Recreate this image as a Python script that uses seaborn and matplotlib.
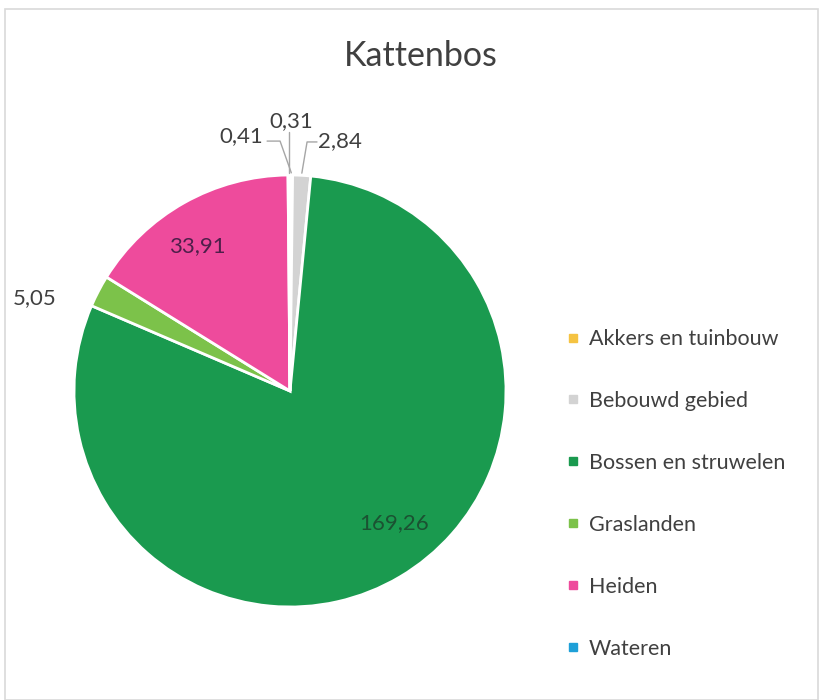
import numpy as np
import matplotlib
matplotlib.use("Agg")
import matplotlib.pyplot as plt
from matplotlib.lines import Line2D
from matplotlib.patches import Rectangle
import seaborn as sns

# data (hectares per land use type)
categories = ["Akkers en tuinbouw", "Bebouwd gebied", "Bossen en struwelen",
              "Graslanden", "Heiden", "Wateren"]
values = [0.41, 2.84, 169.26, 5.05, 33.91, 0.31]
value_labels = ["0,41", "2,84", "169,26", "5,05", "33,91", "0,31"]
colors = ["#f5c342", "#d3d3d3", "#1a9a4f", "#7cc24a", "#ee4b9c", "#1ea0d8"]

sns.set_theme(style="white")
plt.rcParams["font.family"] = ["Lato", "DejaVu Sans"]

fig = plt.figure(figsize=(8.2, 7), dpi=100)

# chart frame
fig.patches.append(Rectangle((5 / 820, 0.5 / 700), 813 / 820, 691 / 700,
                             transform=fig.transFigure, fill=False,
                             edgecolor="#d9d9d9", linewidth=1.2))

# square axes for the pie: centre (290, 391) px, radius 216 px
ax = fig.add_axes([74 / 820, (700 - 391 - 216) / 700, 432 / 820, 432 / 700])
wedges, _ = ax.pie(values, colors=colors, startangle=90, counterclock=False,
                   wedgeprops=dict(edgecolor="white", linewidth=2))
ax.set_xlim(-1, 1)
ax.set_ylim(-1, 1)
ax.set_aspect("equal")
ax.axis("off")


def mid_xy(w, r):
    ang = np.deg2rad((w.theta1 + w.theta2) / 2)
    return r * np.cos(ang), r * np.sin(ang)


txt_color = "#404040"
fs = 16

# labels inside the large slices
ax.text(-0.43, 0.67, value_labels[4], ha="center", va="center", fontsize=fs, color="#4e1f4a")
ax.text(0.48, -0.61, value_labels[2], ha="center", va="center", fontsize=fs, color="#1b5232")

# graslanden label outside
ax.text(-1.18, 0.43, value_labels[3], ha="center", va="center", fontsize=fs, color=txt_color)

# small slices at the top with leader lines
lead = "#a6a6a6"
# 0,41 (Akkers)
ex, ey = mid_xy(wedges[0], 1.01)
ax.plot([-0.106, -0.046, ex], [1.157, 1.157, ey], color=lead, lw=1, clip_on=False)
ax.text(-0.125, 1.18, value_labels[0], ha="right", va="center", fontsize=fs, color=txt_color)
# 0,31 (Wateren)
ex, ey = mid_xy(wedges[5], 1.01)
ax.plot([ex, ex], [ey, 1.2], color=lead, lw=1, clip_on=False)
ax.text(0.005, 1.25, value_labels[5], ha="center", va="center", fontsize=fs, color=txt_color)
# 2,84 (Bebouwd)
ex, ey = mid_xy(wedges[1], 1.01)
ax.plot([0.125, 0.079, ex], [1.153, 1.153, ey], color=lead, lw=1, clip_on=False)
ax.text(0.13, 1.155, value_labels[1], ha="left", va="center", fontsize=fs, color=txt_color)

fig.text(421 / 820, 1 - 56 / 700, "Kattenbos", ha="center", va="center",
         fontsize=24.5, color="#404040")

handles = [Line2D([0], [0], marker="s", linestyle="none", markersize=6,
                  markerfacecolor=c, markeredgecolor=c) for c in colors]
fig.legend(handles, categories, loc="center left",
           bbox_to_anchor=(547 / 820, 1 - 494 / 700), frameon=False,
           fontsize=15.5, labelcolor="#404040", handlelength=0.6,
           handletextpad=0.45, labelspacing=1.95)

fig.savefig("out.png", dpi=100)
